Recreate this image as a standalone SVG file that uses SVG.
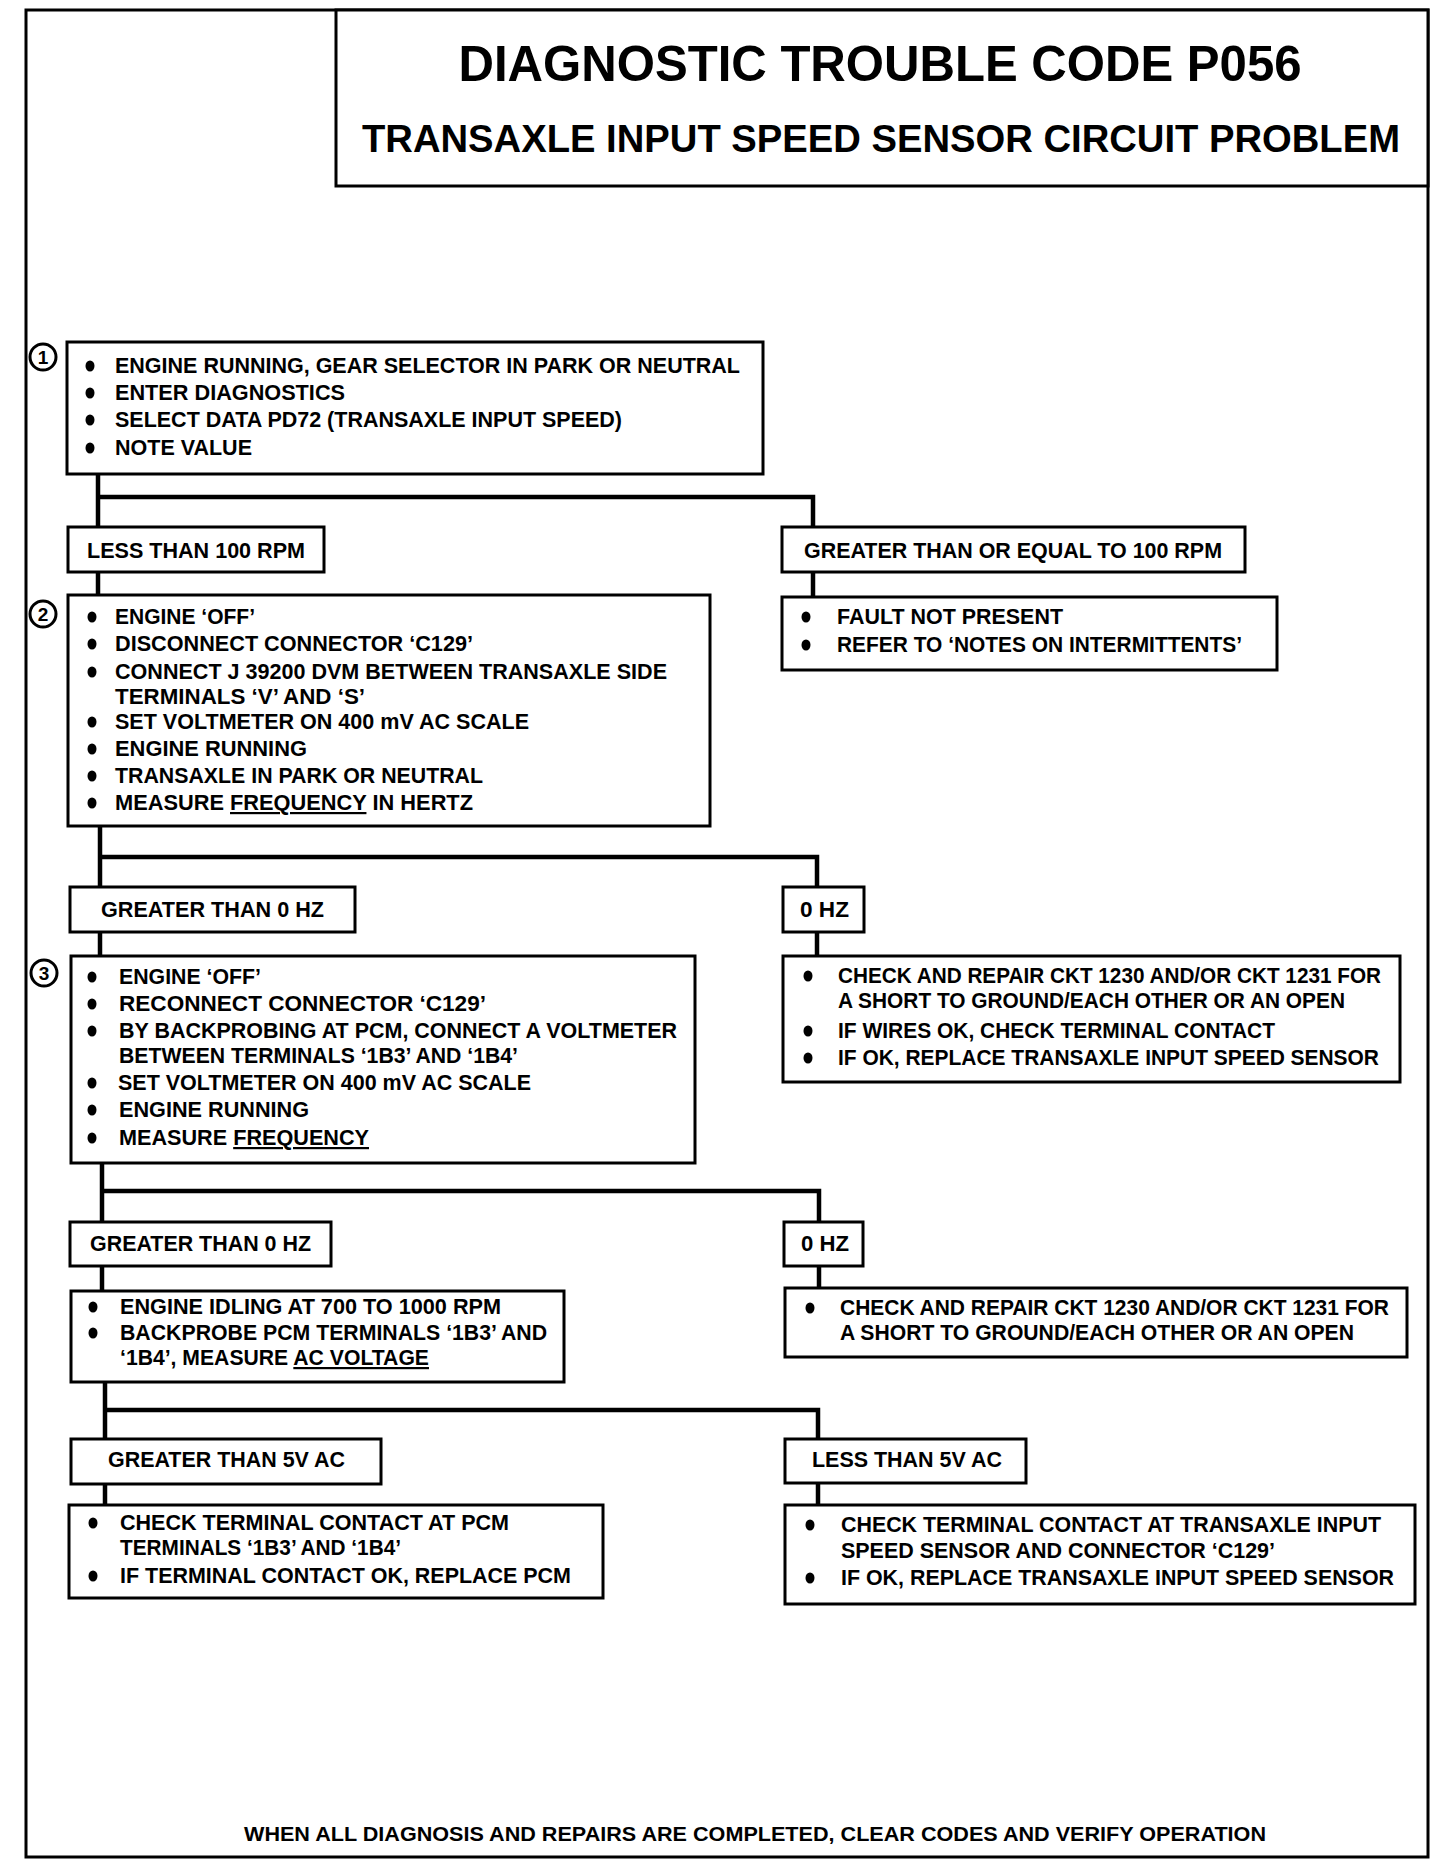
<svg xmlns="http://www.w3.org/2000/svg" width="1440" height="1866" viewBox="0 0 1440 1866">
<style>
.bx{fill:#fff;stroke:#000;stroke-width:3}
.t{font-family:"Liberation Sans",Arial,sans-serif;font-weight:bold;font-size:22px;fill:#000}
.c{fill:none;stroke:#000;stroke-width:4.5}
.num{fill:#fff;stroke:#000;stroke-width:3}
.nt{font-family:"Liberation Sans",Arial,sans-serif;font-weight:bold;font-size:19px;fill:#000;text-anchor:middle}
.u{text-decoration:underline}
</style>
<defs>
<ellipse id="dot" rx="4.5" ry="5.5" fill="#000"/>
</defs>
<rect width="1440" height="1866" fill="#fff"/>
<g id="frame">
<rect x="26" y="10" width="1402" height="1847" fill="none" stroke="#000" stroke-width="3"/>
</g>
<g id="title">
<rect x="336" y="10" width="1092" height="176" fill="#fff" stroke="#000" stroke-width="3"/>
<text x="880" y="81" class="t" style="font-size:50px" text-anchor="middle" textLength="843" lengthAdjust="spacingAndGlyphs">DIAGNOSTIC TROUBLE CODE P056</text>
<text x="881" y="152" class="t" style="font-size:39px" text-anchor="middle" textLength="1038" lengthAdjust="spacingAndGlyphs">TRANSAXLE INPUT SPEED SENSOR CIRCUIT PROBLEM</text>
</g>
<g id="connectors">
<polyline class="c" points="98,474 98,595"/>
<polyline class="c" points="98,497 813,497 813,527"/>
<polyline class="c" points="813,572 813,597"/>
<polyline class="c" points="100,826 100,887"/>
<polyline class="c" points="100,857 817,857 817,887"/>
<polyline class="c" points="100,932 100,956"/>
<polyline class="c" points="817,932 817,956"/>
<polyline class="c" points="102,1163 102,1222"/>
<polyline class="c" points="102,1191 819,1191 819,1222"/>
<polyline class="c" points="102,1266 102,1291"/>
<polyline class="c" points="819,1266 819,1288"/>
<polyline class="c" points="105,1382 105,1439"/>
<polyline class="c" points="105,1410 818,1410 818,1439"/>
<polyline class="c" points="105,1484 105,1505"/>
<polyline class="c" points="818,1483 818,1505"/>
</g>
<g id="step1">
<rect class="bx" x="67" y="342" width="696" height="132"/>
<circle class="num" cx="43" cy="357" r="13"/><text class="nt" x="43" y="364">1</text>
<use href="#dot" x="90" y="366"/><text class="t" x="115" y="373" textLength="625" lengthAdjust="spacingAndGlyphs">ENGINE RUNNING, GEAR SELECTOR IN PARK OR NEUTRAL</text>
<use href="#dot" x="90" y="393"/><text class="t" x="115" y="400" textLength="230" lengthAdjust="spacingAndGlyphs">ENTER DIAGNOSTICS</text>
<use href="#dot" x="90" y="420"/><text class="t" x="115" y="427" textLength="507" lengthAdjust="spacingAndGlyphs">SELECT DATA PD72 (TRANSAXLE INPUT SPEED)</text>
<use href="#dot" x="90" y="448"/><text class="t" x="115" y="455" textLength="137" lengthAdjust="spacingAndGlyphs">NOTE VALUE</text>
</g>
<g id="less100">
<rect class="bx" x="68" y="527" width="256" height="45"/>
<text class="t" x="87" y="558" textLength="218" lengthAdjust="spacingAndGlyphs">LESS THAN 100 RPM</text>
</g>
<g id="ge100">
<rect class="bx" x="782" y="527" width="463" height="45"/>
<text class="t" x="804" y="558" textLength="418" lengthAdjust="spacingAndGlyphs">GREATER THAN OR EQUAL TO 100 RPM</text>
</g>
<g id="faultnot">
<rect class="bx" x="782" y="597" width="495" height="73"/>
<use href="#dot" x="806" y="617"/><text class="t" x="837" y="624" textLength="226" lengthAdjust="spacingAndGlyphs">FAULT NOT PRESENT</text>
<use href="#dot" x="806" y="645"/><text class="t" x="837" y="652" textLength="405" lengthAdjust="spacingAndGlyphs">REFER TO ‘NOTES ON INTERMITTENTS’</text>
</g>
<g id="step2">
<rect class="bx" x="68" y="595" width="642" height="231"/>
<circle class="num" cx="43" cy="614" r="13"/><text class="nt" x="43" y="621">2</text>
<use href="#dot" x="92" y="617"/><text class="t" x="115" y="624" textLength="140" lengthAdjust="spacingAndGlyphs">ENGINE ‘OFF’</text>
<use href="#dot" x="92" y="644"/><text class="t" x="115" y="651" textLength="358" lengthAdjust="spacingAndGlyphs">DISCONNECT CONNECTOR ‘C129’</text>
<use href="#dot" x="92" y="672"/><text class="t" x="115" y="679" textLength="552" lengthAdjust="spacingAndGlyphs">CONNECT J 39200 DVM BETWEEN TRANSAXLE SIDE</text>
<text class="t" x="115" y="704" textLength="250" lengthAdjust="spacingAndGlyphs">TERMINALS ‘V’ AND ‘S’</text>
<use href="#dot" x="92" y="722"/><text class="t" x="115" y="729" textLength="414" lengthAdjust="spacingAndGlyphs">SET VOLTMETER ON 400 mV AC SCALE</text>
<use href="#dot" x="92" y="749"/><text class="t" x="115" y="756" textLength="192" lengthAdjust="spacingAndGlyphs">ENGINE RUNNING</text>
<use href="#dot" x="92" y="776"/><text class="t" x="115" y="783" textLength="368" lengthAdjust="spacingAndGlyphs">TRANSAXLE IN PARK OR NEUTRAL</text>
<use href="#dot" x="92" y="803"/><text class="t" x="115" y="810" textLength="358" lengthAdjust="spacingAndGlyphs">MEASURE <tspan class="u">FREQUENCY</tspan> IN HERTZ</text>
</g>
<g id="gt0hz1">
<rect class="bx" x="70" y="887" width="285" height="45"/>
<text class="t" x="101" y="917" textLength="223" lengthAdjust="spacingAndGlyphs">GREATER THAN 0 HZ</text>
</g>
<g id="zerohz1">
<rect class="bx" x="783" y="887" width="81" height="45"/>
<text class="t" x="800" y="917" textLength="49" lengthAdjust="spacingAndGlyphs">0 HZ</text>
</g>
<g id="repair1">
<rect class="bx" x="783" y="956" width="617" height="126"/>
<use href="#dot" x="808" y="976"/><text class="t" x="838" y="983" textLength="543" lengthAdjust="spacingAndGlyphs">CHECK AND REPAIR CKT 1230 AND/OR CKT 1231 FOR</text>
<text class="t" x="838" y="1008" textLength="507" lengthAdjust="spacingAndGlyphs">A SHORT TO GROUND/EACH OTHER OR AN OPEN</text>
<use href="#dot" x="808" y="1031"/><text class="t" x="838" y="1038" textLength="437" lengthAdjust="spacingAndGlyphs">IF WIRES OK, CHECK TERMINAL CONTACT</text>
<use href="#dot" x="808" y="1058"/><text class="t" x="838" y="1065" textLength="541" lengthAdjust="spacingAndGlyphs">IF OK, REPLACE TRANSAXLE INPUT SPEED SENSOR</text>
</g>
<g id="step3">
<rect class="bx" x="71" y="956" width="624" height="207"/>
<circle class="num" cx="44" cy="973" r="13"/><text class="nt" x="44" y="980">3</text>
<use href="#dot" x="92" y="977"/><text class="t" x="119" y="984" textLength="142" lengthAdjust="spacingAndGlyphs">ENGINE ‘OFF’</text>
<use href="#dot" x="92" y="1004"/><text class="t" x="119" y="1011" textLength="367" lengthAdjust="spacingAndGlyphs">RECONNECT CONNECTOR ‘C129’</text>
<use href="#dot" x="92" y="1031"/><text class="t" x="119" y="1038" textLength="558" lengthAdjust="spacingAndGlyphs">BY BACKPROBING AT PCM, CONNECT A VOLTMETER</text>
<text class="t" x="119" y="1063" textLength="399" lengthAdjust="spacingAndGlyphs">BETWEEN TERMINALS ‘1B3’ AND ‘1B4’</text>
<use href="#dot" x="92" y="1083"/><text class="t" x="118" y="1090" textLength="413" lengthAdjust="spacingAndGlyphs">SET VOLTMETER ON 400 mV AC SCALE</text>
<use href="#dot" x="92" y="1110"/><text class="t" x="119" y="1117" textLength="190" lengthAdjust="spacingAndGlyphs">ENGINE RUNNING</text>
<use href="#dot" x="92" y="1138"/><text class="t" x="119" y="1145" textLength="250" lengthAdjust="spacingAndGlyphs">MEASURE <tspan class="u">FREQUENCY</tspan></text>
</g>
<g id="gt0hz2">
<rect class="bx" x="70" y="1222" width="261" height="44"/>
<text class="t" x="90" y="1251" textLength="221" lengthAdjust="spacingAndGlyphs">GREATER THAN 0 HZ</text>
</g>
<g id="zerohz2">
<rect class="bx" x="784" y="1222" width="79" height="44"/>
<text class="t" x="801" y="1251" textLength="48" lengthAdjust="spacingAndGlyphs">0 HZ</text>
</g>
<g id="idle">
<rect class="bx" x="71" y="1291" width="493" height="91"/>
<use href="#dot" x="93" y="1307"/><text class="t" x="120" y="1314" textLength="381" lengthAdjust="spacingAndGlyphs">ENGINE IDLING AT 700 TO 1000 RPM</text>
<use href="#dot" x="93" y="1333"/><text class="t" x="120" y="1340" textLength="427" lengthAdjust="spacingAndGlyphs">BACKPROBE PCM TERMINALS ‘1B3’ AND</text>
<text class="t" x="120" y="1365" textLength="309" lengthAdjust="spacingAndGlyphs">‘1B4’, MEASURE <tspan class="u">AC VOLTAGE</tspan></text>
</g>
<g id="repair2">
<rect class="bx" x="785" y="1288" width="622" height="69"/>
<use href="#dot" x="810" y="1308"/><text class="t" x="840" y="1315" textLength="549" lengthAdjust="spacingAndGlyphs">CHECK AND REPAIR CKT 1230 AND/OR CKT 1231 FOR</text>
<text class="t" x="840" y="1340" textLength="514" lengthAdjust="spacingAndGlyphs">A SHORT TO GROUND/EACH OTHER OR AN OPEN</text>
</g>
<g id="gt5v">
<rect class="bx" x="71" y="1439" width="310" height="45"/>
<text class="t" x="108" y="1467" textLength="237" lengthAdjust="spacingAndGlyphs">GREATER THAN 5V AC</text>
</g>
<g id="lt5v">
<rect class="bx" x="785" y="1439" width="241" height="44"/>
<text class="t" x="812" y="1467" textLength="190" lengthAdjust="spacingAndGlyphs">LESS THAN 5V AC</text>
</g>
<g id="pcm">
<rect class="bx" x="69" y="1505" width="534" height="93"/>
<use href="#dot" x="93" y="1523"/><text class="t" x="120" y="1530" textLength="389" lengthAdjust="spacingAndGlyphs">CHECK TERMINAL CONTACT AT PCM</text>
<text class="t" x="120" y="1555" textLength="281" lengthAdjust="spacingAndGlyphs">TERMINALS ‘1B3’ AND ‘1B4’</text>
<use href="#dot" x="93" y="1576"/><text class="t" x="120" y="1583" textLength="451" lengthAdjust="spacingAndGlyphs">IF TERMINAL CONTACT OK, REPLACE PCM</text>
</g>
<g id="sensor">
<rect class="bx" x="785" y="1505" width="630" height="99"/>
<use href="#dot" x="810" y="1525"/><text class="t" x="841" y="1532" textLength="540" lengthAdjust="spacingAndGlyphs">CHECK TERMINAL CONTACT AT TRANSAXLE INPUT</text>
<text class="t" x="841" y="1558" textLength="434" lengthAdjust="spacingAndGlyphs">SPEED SENSOR AND CONNECTOR ‘C129’</text>
<use href="#dot" x="810" y="1578"/><text class="t" x="841" y="1585" textLength="553" lengthAdjust="spacingAndGlyphs">IF OK, REPLACE TRANSAXLE INPUT SPEED SENSOR</text>
</g>
<g id="footer">
<text class="t" x="244" y="1841" style="font-size:20px" textLength="1022" lengthAdjust="spacingAndGlyphs">WHEN ALL DIAGNOSIS AND REPAIRS ARE COMPLETED, CLEAR CODES AND VERIFY OPERATION</text>
</g>
</svg>
